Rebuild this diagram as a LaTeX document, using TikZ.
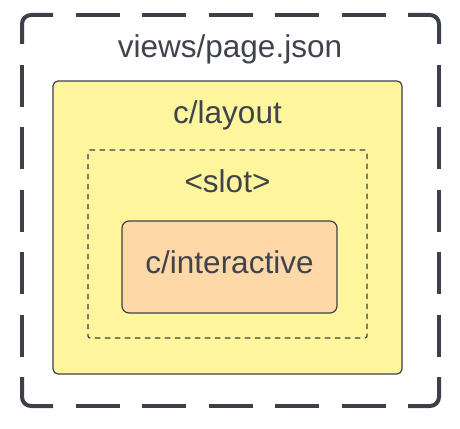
\documentclass[tikz,border=0pt]{standalone}
\usepackage{fontspec}
\setmainfont{Liberation Sans}
\definecolor{ink}{RGB}{60,64,72}
\definecolor{txt}{RGB}{63,67,75}
\definecolor{layoutfill}{RGB}{255,245,157}
\definecolor{interfill}{RGB}{255,216,168}
\begin{document}
\begin{tikzpicture}[x=1pt,y=-1pt,
  lbl/.style={font=\fontsize{31.5}{37}\selectfont, text=txt, anchor=base, inner sep=0pt},
  boxshape/.style={draw=ink, line width=1.2pt, inner sep=0pt},
  outer/.style={draw=ink, line width=4pt},
  outercorner/.style={outer, rounded corners=9pt},
]
\useasboundingbox (0,0) rectangle (460,428);
\fill[white] (0,0) rectangle (460,428);
% outer dashed frame (views/page.json)
\coordinate (tl) at (22,15);
\coordinate (tr) at (439,15);
\coordinate (br) at (439,406);
\coordinate (bl) at (22,406);
\draw[outercorner] (22,44) -- (tl) -- (53,15);
\draw[outercorner] (408,15) -- (tr) -- (439,44);
\draw[outercorner] (439,377) -- (br) -- (408,406);
\draw[outercorner] (53,406) -- (bl) -- (22,377);
\draw[outer, dash pattern=on 44pt off 22.5pt, dash phase=44pt] (53,15) -- (408,15);
\draw[outer, dash pattern=on 44pt off 22.5pt, dash phase=44pt] (53,406) -- (408,406);
\draw[outer, dash pattern=on 42pt off 20.5pt, dash phase=42pt] (22,44) -- (22,377);
\draw[outer, dash pattern=on 42pt off 20.5pt, dash phase=42pt] (439,44) -- (439,377);
% c/layout
\node[boxshape, fill=layoutfill, rounded corners=5pt, minimum width=349pt, minimum height=293pt] (layout) at (227.5,227.5) {};
% slot
\node[draw=ink, line width=1.2pt, dash pattern=on 5.5pt off 4.5pt, rounded corners=2pt, inner sep=0pt, minimum width=279pt, minimum height=188pt] (slot) at (227.5,244) {};
% c/interactive
\node[boxshape, fill=interfill, rounded corners=7pt, minimum width=215pt, minimum height=92pt] (inter) at (229.5,267) {};
% labels
\node[lbl] (pagetitle) at (230,58) {views/page.json};
\node[lbl] (layouttitle) at (227.5,123) {c/layout};
\node[lbl] (slottitle) at (227.5,192) {<slot>};
\node[lbl] (intertitle) at (229.5,273) {c/interactive};
\end{tikzpicture}
\end{document}
